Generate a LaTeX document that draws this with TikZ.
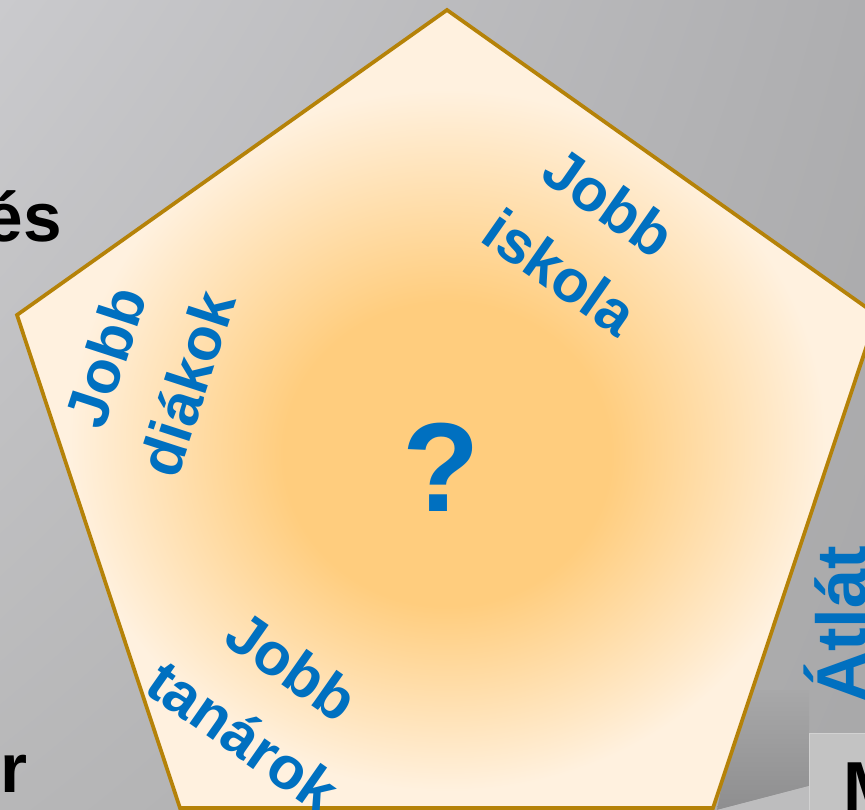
\documentclass[tikz,border=0pt]{standalone}
\usepackage{fontspec}
\usetikzlibrary{shadings}
\setmainfont{Liberation Sans}
\definecolor{bgUL}{HTML}{CACACD}
\definecolor{bgUR}{HTML}{AEAEB0}
\definecolor{bgLL}{HTML}{B7B7B8}
\definecolor{bgLR}{HTML}{A8A8A9}
\definecolor{orng}{HTML}{FFCD7E}
\definecolor{crm}{HTML}{FFF1DF}
\definecolor{gold}{HTML}{B58208}
\definecolor{jblue}{HTML}{0070C0}
\definecolor{boxgray}{HTML}{C3C3C3}
\definecolor{boxedge}{HTML}{D2D2D2}
\definecolor{shadowgray}{HTML}{8E8E8F}
\definecolor{lightfloor}{HTML}{BDBDBE}
\pgfdeclareradialshading{blob}{\pgfpoint{0bp}{-3.5bp}}{color(0bp)=(orng); color(9.5bp)=(orng); color(22bp)=(crm); color(50bp)=(crm)}
\tikzset{
  jobb/.style={text=jblue, font=\fontsize{45}{64}\selectfont\bfseries, align=center, inner sep=0pt},
  sidetext/.style={text=black, font=\fontsize{52}{60}\selectfont\bfseries, inner sep=0pt},
  pentline/.style={draw=gold, line width=2.8pt, line join=miter}
}
\begin{document}
\begin{tikzpicture}[x=0.75pt,y=-0.75pt]
\useasboundingbox (0,0) rectangle (865,810);
% background
\shade[upper left=bgUL, upper right=bgUR, lower left=bgLL, lower right=bgLR] (0,0) rectangle (865,810);
% bottom-right box and its shadow
\shade[top color=bgLR, bottom color=shadowgray] (760,690) -- (809,690) -- (809,786) -- (717,810) -- (740,690) -- cycle;
\fill[lightfloor] (717,810) -- (809,786) -- (809,810) -- cycle;
\fill[boxgray] (809,733) rectangle (870,815);
\draw[boxedge, line width=0.8pt] (809.5,815) -- (809.5,733.5) -- (870,733.5);
% side texts
\node[sidetext, anchor=base east] (es) at (62,241) {és};
\node[sidetext, anchor=base east] (er) at (28,792) {er};
\node[sidetext, anchor=base west] (m) at (843,810) {M};
\node[text=jblue, font=\fontsize{53}{60}\selectfont\bfseries, inner sep=0pt, rotate=90, anchor=base west] (atl) at (866,703) {Átlát};
% pentagon
\coordinate (T) at (447,10);
\coordinate (R) at (877,315);
\coordinate (BR) at (713,808);
\coordinate (BL) at (180,808);
\coordinate (L) at (17,315);
\path[shading=blob] (T) -- (R) -- (BR) -- (BL) -- (L) -- cycle;
\path[pentline] (T) -- (R) -- (BR) -- (BL) -- (L) -- cycle;
% texts inside
\node[jobb, rotate=-35] (iskola) at (585,237) {Jobb\\iskola};
\node[jobb, rotate=72] (diakok) at (146,370) {Jobb\\diákok};
\node[jobb, rotate=-35] (tanarok) at (268,701) {Jobb\\tanárok};
\node[text=jblue, font=\fontsize{95}{100}\selectfont\bfseries, inner sep=0pt] (q) at (441,467) {?};
\end{tikzpicture}
\end{document}
